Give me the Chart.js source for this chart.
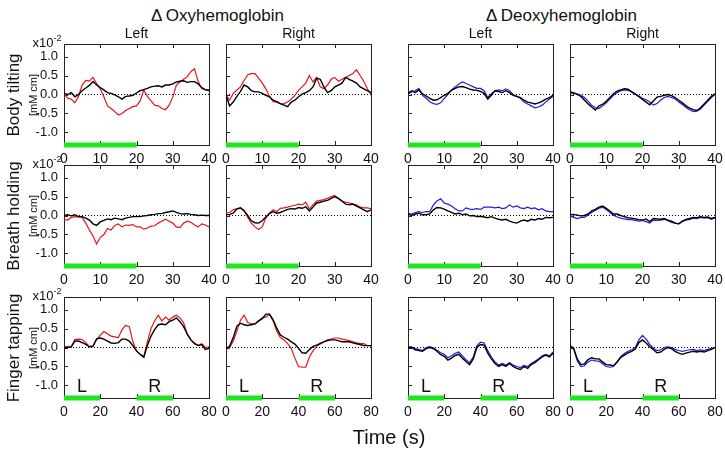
<!DOCTYPE html>
<html><head><meta charset="utf-8">
<script src="https://cdn.jsdelivr.net/npm/chart.js@4/dist/chart.umd.min.js"></script>
<style>
html,body{margin:0;padding:0;background:#fff;}
#root{position:relative;width:725px;height:451px;overflow:hidden;font-family:'Liberation Sans',Arial,sans-serif;color:#111;}
.t{position:absolute;white-space:nowrap;line-height:1;}
canvas{position:absolute;}
</style></head><body><div id="root"></div>
<script>
// ---------- data ----------
const time40 = [0,1,2,3,4,5,6,7,8,9,10,11,12,13,14,15,16,17,18,19,20,21,22,23,24,25,26,27,28,29,30,31,32,33,34,35,36,37,38,39,40];
const time80 = [0,2,4,6,8,10,12,14,16,18,20,22,24,26,28,30,32,34,36,38,40,42,44,46,48,50,52,54,56,58,60,62,64,66,68,70,72,74,76,78,80];
const xTicks40 = [0,10,20,30,40];
const xTicks80 = [0,20,40,60,80];
const yTickValues = [-1,-0.5,0,0.5,1];
const stim40 = [[0,20]];
const stim80 = [[0,20],[40,60]];
const columnTitles = ['Left','Right','Left','Right'];
const groupTitles = ['\u0394\u2009Oxyhemoglobin','\u0394\u2009Deoxyhemoglobin'];
const rowTitles = ['Body tilting','Breath holding','Finger tapping'];

// Body tilting (0-40 s, 1 s steps)
const tiltOxyLeftRed    = [0.03,-0.1,-0.12,-0.22,-0.05,0.25,0.37,0.35,0.45,0.29,0.15,-0.06,-0.3,-0.37,-0.45,-0.54,-0.5,-0.42,-0.37,-0.32,-0.3,-0.17,0.12,-0.05,-0.17,-0.28,-0.3,-0.37,-0.4,-0.28,-0.07,0.25,0.33,0.4,0.47,0.6,0.68,0.35,0.16,0.12,0.13];
const tiltOxyLeftBlack  = [0.03,0,0.05,-0.06,0,0.1,0.17,0.24,0.34,0.25,0.18,0.12,0.05,0.03,-0.01,-0.06,-0.12,-0.05,-0.04,-0.02,0.04,0.1,0.13,0.16,0.2,0.22,0.23,0.2,0.25,0.25,0.28,0.33,0.35,0.36,0.32,0.34,0.34,0.28,0.18,0.13,0.1];
const tiltOxyRightRed   = [-0.02,-0.15,0.03,0.12,0.2,0.37,0.52,0.55,0.55,0.43,0.3,0.15,-0.05,-0.19,-0.2,-0.25,-0.24,-0.2,-0.12,-0.02,0.11,0.2,0.3,0.5,0.33,0.45,0.2,0.15,0.25,0.4,0.45,0.35,0.4,0.45,0.5,0.55,0.65,0.5,0.35,0.15,0];
const tiltOxyRightBlack = [-0.02,-0.3,-0.2,-0.05,0.08,0.25,0.2,0.1,0.07,0.07,0.03,-0.02,-0.06,-0.15,-0.19,-0.24,-0.28,-0.32,-0.2,-0.15,-0.06,0.01,0.05,0.1,0.2,0.43,0.4,0.2,0.05,0.1,0.2,0.25,0.3,0.45,0.4,0.35,0.3,0.2,0.15,0.1,0.05];
const tiltDeoxyLeftBlue   = [0,0.07,0.1,0.16,-0.02,-0.1,-0.19,-0.24,-0.26,-0.22,-0.1,0,0.12,0.2,0.27,0.33,0.29,0.25,0.2,0.16,0.16,0.1,-0.08,0.02,0.1,0.12,0.1,0.15,0.1,0,-0.05,-0.1,-0.2,-0.25,-0.3,-0.35,-0.33,-0.28,-0.2,-0.12,-0.05];
const tiltDeoxyLeftBlack  = [0.03,0.1,0.05,0.12,0.02,-0.04,-0.1,-0.15,-0.14,-0.08,-0.02,0.03,0.11,0.16,0.2,0.21,0.18,0.14,0.12,0.11,0.08,0.03,-0.12,-0.02,0.1,0.08,0.05,0.1,0.05,-0.02,-0.05,-0.08,-0.15,-0.2,-0.22,-0.25,-0.22,-0.18,-0.12,-0.08,-0.02];
const tiltDeoxyRightBlue  = [0.05,0.02,0.02,-0.02,-0.08,-0.18,-0.28,-0.35,-0.37,-0.3,-0.22,-0.12,-0.02,0.05,0.1,0.12,0.11,0.08,0.02,-0.04,-0.1,-0.14,-0.2,-0.28,-0.24,-0.15,-0.08,-0.05,-0.08,-0.12,-0.2,-0.26,-0.34,-0.4,-0.45,-0.44,-0.38,-0.28,-0.18,-0.08,0];
const tiltDeoxyRightBlack = [0.06,0.05,0,-0.05,-0.15,-0.25,-0.33,-0.41,-0.3,-0.26,-0.18,-0.08,0.02,0.09,0.12,0.15,0.14,0.07,0.01,-0.06,-0.13,-0.2,-0.27,-0.17,-0.07,-0.05,-0.02,0,-0.03,-0.08,-0.15,-0.22,-0.3,-0.36,-0.4,-0.42,-0.35,-0.25,-0.15,-0.05,0.02];
// Breath holding (0-40 s, 1 s steps)
const breathOxyLeftRed    = [-0.1,-0.12,-0.05,-0.03,-0.04,-0.05,-0.2,-0.38,-0.54,-0.75,-0.58,-0.5,-0.34,-0.38,-0.26,-0.22,-0.3,-0.25,-0.26,-0.24,-0.3,-0.3,-0.36,-0.33,-0.28,-0.27,-0.2,-0.15,-0.1,-0.15,-0.2,-0.3,-0.32,-0.2,-0.15,-0.18,-0.25,-0.3,-0.22,-0.25,-0.3];
const breathOxyLeftBlack  = [0,0.02,-0.01,0.02,-0.03,-0.03,-0.07,-0.12,-0.22,-0.26,-0.17,-0.13,-0.09,-0.11,-0.07,-0.09,-0.11,-0.07,-0.05,-0.03,-0.03,-0.03,-0.01,0,0.02,0.03,0.05,0.05,0.08,0.1,0.12,0.08,0.05,0.04,0.05,0.03,0.02,0,0.01,0,0];
const breathOxyRightRed   = [0.06,0.08,0.15,0.18,0.2,0.14,-0.05,-0.2,-0.3,-0.37,-0.3,-0.06,0.06,0.15,0.1,0.19,0.2,0.22,0.25,0.27,0.3,0.28,0.35,0.17,0.28,0.38,0.4,0.42,0.45,0.5,0.52,0.45,0.38,0.35,0.33,0.3,0.28,0.22,0.2,0.2,0.18];
const breathOxyRightBlack = [0.02,0.03,0.06,0.17,0.2,0.12,0,-0.14,-0.19,-0.2,-0.14,-0.04,0.05,0.1,0.06,0.08,0.12,0.16,0.18,0.17,0.21,0.19,0.23,0.12,0.22,0.33,0.35,0.38,0.4,0.45,0.5,0.45,0.38,0.3,0.28,0.3,0.25,0.2,0.15,0.1,0.15];
const breathDeoxyLeftBlue   = [0.05,0.04,0.08,0.1,0.08,0.1,0.1,0.28,0.38,0.44,0.33,0.3,0.25,0.18,0.12,0.12,0.2,0.17,0.16,0.18,0.16,0.22,0.22,0.22,0.2,0.22,0.18,0.2,0.28,0.22,0.25,0.2,0.18,0.22,0.18,0.2,0.15,0.18,0.12,0.1,0.1];
const breathDeoxyLeftBlack  = [0.04,0,0.04,0.06,0.02,0.02,0.04,0.15,0.21,0.2,0.17,0.12,0.08,0.04,0.06,0.02,0.04,-0.01,0,-0.03,-0.02,-0.04,-0.06,-0.03,-0.07,-0.1,-0.12,-0.1,-0.15,-0.18,-0.2,-0.15,-0.12,-0.15,-0.1,-0.12,-0.08,-0.1,-0.05,-0.06,-0.05];
const breathDeoxyRightBlue  = [-0.01,-0.05,-0.08,-0.05,-0.05,0.02,0.08,0.14,0.19,0.22,0.16,0.08,0.01,-0.04,-0.07,-0.09,-0.11,-0.11,-0.13,-0.15,-0.13,-0.16,-0.2,-0.12,-0.13,-0.12,-0.1,-0.14,-0.18,-0.2,-0.22,-0.16,-0.12,-0.1,-0.07,-0.08,-0.05,-0.07,-0.06,-0.1,-0.06];
const breathDeoxyRightBlack = [0.02,0.03,0.01,-0.01,0,0.04,0.12,0.16,0.22,0.25,0.19,0.12,0.04,0.04,0,-0.03,-0.06,-0.07,-0.09,-0.11,-0.12,-0.09,-0.16,-0.08,-0.09,-0.1,-0.08,-0.12,-0.15,-0.2,-0.22,-0.15,-0.1,-0.08,-0.05,-0.06,-0.03,-0.05,-0.04,-0.08,-0.05];
// Finger tapping (0-80 s, 2 s steps)
const tapOxyLeftRed    = [0,0.03,0,0.21,0.22,0.21,0.13,0.02,0.02,0.21,0.32,0.42,0.36,0.3,0.28,0.26,0.47,0.58,0.55,0.15,-0.09,-0.18,-0.24,0.15,0.5,0.7,0.85,0.7,0.8,0.72,0.8,0.85,0.78,0.65,0.35,0.2,0.12,0.05,0.1,0,0.02];
const tapOxyLeftBlack  = [0,0,0.02,0.17,0.17,0.13,0.08,0.02,0.04,0.23,0.25,0.22,0.17,0.12,0.11,0.13,0.22,0.22,0.17,0.05,-0.09,-0.18,-0.26,0.05,0.3,0.47,0.6,0.62,0.6,0.68,0.72,0.78,0.68,0.55,0.35,0.2,0.1,0.05,0.08,-0.05,-0.02];
const tapOxyRightRed   = [-0.05,0,0.17,0.43,0.72,0.85,0.66,0.62,0.62,0.7,0.78,0.8,0.87,0.7,0.43,0.26,0.2,0.1,-0.02,-0.28,-0.5,-0.52,-0.52,-0.25,-0.09,0.03,0.09,0.15,0.2,0.22,0.25,0.25,0.22,0.2,0.18,0.15,0.12,0.1,0.1,0.05,0.05];
const tapOxyRightBlack = [-0.03,0.04,0.26,0.56,0.64,0.6,0.58,0.6,0.62,0.7,0.76,0.88,0.88,0.73,0.51,0.33,0.27,0.22,0.15,0.09,-0.02,-0.14,-0.15,-0.05,0.03,0.06,0.11,0.15,0.18,0.2,0.2,0.18,0.15,0.15,0.15,0.12,0.1,0.08,0.05,0.05,0.05];
const tapDeoxyLeftBlue   = [0.02,0.02,-0.03,-0.05,-0.08,0,0.02,-0.01,-0.07,-0.14,-0.18,-0.27,-0.22,-0.15,-0.12,-0.22,-0.32,-0.4,-0.25,0.05,0.14,0.12,-0.08,-0.25,-0.38,-0.46,-0.42,-0.46,-0.4,-0.46,-0.5,-0.53,-0.47,-0.5,-0.42,-0.36,-0.3,-0.22,-0.18,-0.22,-0.12];
const tapDeoxyLeftBlack  = [0,0,-0.06,-0.08,-0.1,-0.03,0,-0.03,-0.1,-0.19,-0.23,-0.33,-0.28,-0.21,-0.18,-0.28,-0.37,-0.45,-0.3,0,0.08,0.06,-0.15,-0.3,-0.42,-0.5,-0.45,-0.5,-0.42,-0.5,-0.55,-0.58,-0.5,-0.55,-0.45,-0.4,-0.32,-0.25,-0.2,-0.25,-0.15];
const tapDeoxyRightBlue  = [0.05,-0.03,-0.35,-0.5,-0.48,-0.38,-0.33,-0.35,-0.36,-0.43,-0.5,-0.52,-0.5,-0.38,-0.24,-0.16,-0.1,-0.06,0,0.2,0.32,0.22,0.08,-0.02,-0.08,-0.06,0,0.02,0,-0.05,-0.08,-0.1,-0.08,-0.06,-0.05,-0.08,-0.06,-0.08,-0.05,-0.02,0];
const tapDeoxyRightBlack = [0.05,-0.02,-0.3,-0.45,-0.43,-0.32,-0.27,-0.3,-0.3,-0.38,-0.45,-0.46,-0.48,-0.38,-0.26,-0.2,-0.14,-0.1,-0.04,0.13,0.2,0.12,0.02,-0.06,-0.14,-0.12,-0.05,0,-0.03,-0.1,-0.15,-0.18,-0.15,-0.12,-0.1,-0.12,-0.1,-0.12,-0.08,-0.05,0];

// ---------- layout ----------
const Y_MIN = -1.33, Y_MAX = 1.33;
const colLeft = [64,226,408,570], rowTop = [44,165,297];
const PW = 145, PH = 101;
const RED = '#e8141b', BLUE = '#1e1ee0', GREEN = '#1fe61f';
const root = document.getElementById('root');

function text(str, cx, cy, size, rot) {
  const d = document.createElement('div');
  d.className = 't';
  d.innerHTML = str;
  d.style.fontSize = size + 'px';
  d.style.left = cx + 'px';
  d.style.top = cy + 'px';
  d.style.transform = 'translate(-50%,-50%)' + (rot ? ' rotate(-90deg)' : '');
  root.appendChild(d);
  return d;
}

Chart.defaults.font.family = "'Liberation Sans', Arial, sans-serif";
Chart.defaults.color = '#111';
Chart.defaults.animation = false;

const framePlugin = {
  id: 'frame',
  beforeDatasetsDraw(chart) {
    const {ctx, chartArea: a, scales: {x, y}} = chart;
    ctx.save();
    ctx.strokeStyle = '#222';
    ctx.lineWidth = 1;
    ctx.strokeRect(a.left + 0.5, a.top + 0.5, a.right - a.left, a.bottom - a.top);
    const TL = 4;
    ctx.beginPath();
    x.ticks.forEach(t => {
      if (t.value <= x.min || t.value >= x.max) return;
      const px = Math.round(x.getPixelForValue(t.value)) + 0.5;
      ctx.moveTo(px, a.top); ctx.lineTo(px, a.top + TL);
      ctx.moveTo(px, a.bottom); ctx.lineTo(px, a.bottom - TL);
    });
    y.ticks.forEach(t => {
      const py = Math.round(y.getPixelForValue(t.value)) + 0.5;
      ctx.moveTo(a.left, py); ctx.lineTo(a.left + TL, py);
    });
    ctx.stroke();
    ctx.restore();
  },
  afterDraw(chart) {
    const lr = chart.options.plugins.frame && chart.options.plugins.frame.lr;
    if (!lr) return;
    const {ctx, chartArea: a, scales: {x}} = chart;
    ctx.save();
    ctx.font = "18px 'Liberation Sans', Arial, sans-serif";
    ctx.fillStyle = '#111';
    ctx.textAlign = 'center';
    ctx.textBaseline = 'middle';
    lr.forEach(([lab, v]) => ctx.fillText(lab, x.getPixelForValue(v), a.bottom - 11));
    ctx.restore();
  }
};

function makePanel(row, col, times, colored, black, color, xTicks, stims, lr) {
  const padL = col === 0 ? 45 : 6, padT = 5, padR = 14, padB = 24;
  const xmax = xTicks[xTicks.length - 1];
  const cv = document.createElement('canvas');
  const W = PW + padL + padR, H = PH + padT + padB;
  cv.width = W; cv.height = H;
  cv.style.width = W + 'px'; cv.style.height = H + 'px';
  cv.style.left = (colLeft[col] - padL) + 'px';
  cv.style.top = (rowTop[row] - padT) + 'px';
  root.appendChild(cv);
  const pts = (xs, ys) => xs.map((v, i) => ({x: v, y: ys[i]}));
  const datasets = [];
  stims.forEach(s => datasets.push({data: [{x: s[0], y: Y_MIN}, {x: s[1], y: Y_MIN}], borderColor: GREEN, borderWidth: 5, clip: false, borderCapStyle: 'butt'}));
  datasets.push({data: pts(times, black), borderColor: '#000', borderWidth: 1.4});
  datasets.push({data: pts(times, colored), borderColor: color, borderWidth: 1.2});
  datasets.push({data: [{x: 0, y: 0}, {x: xmax, y: 0}], borderColor: '#000', borderWidth: 1, borderDash: [1, 2]});
  new Chart(cv, {
    type: 'line',
    data: {datasets},
    options: {
      responsive: false, devicePixelRatio: 1,
      layout: {autoPadding: false, padding: {left: 0, top: padT, right: padR, bottom: 0}},
      elements: {point: {radius: 0}, line: {tension: 0, fill: false}},
      plugins: {legend: {display: false}, tooltip: {enabled: false}, frame: {lr}},
      scales: {
        x: {type: 'linear', min: 0, max: xmax,
            grid: {display: false, drawTicks: false}, border: {display: false},
            ticks: {padding: 6, font: {size: 14}, maxRotation: 0, autoSkip: false},
            afterBuildTicks: s => { s.ticks = xTicks.map(v => ({value: v})); },
            afterFit: s => { s.height = padB; s.paddingLeft = 0; s.paddingRight = 0; s.paddingTop = 0; s.paddingBottom = 0; }},
        y: {type: 'linear', min: Y_MIN, max: Y_MAX,
            grid: {display: false, drawTicks: false}, border: {display: false},
            ticks: {display: col === 0, padding: 6, font: {size: 13}, callback: v => v.toFixed(1)},
            afterBuildTicks: s => { s.ticks = yTickValues.map(v => ({value: v})); },
            afterFit: s => { s.width = padL; s.paddingLeft = 0; s.paddingRight = 0; s.paddingTop = 0; s.paddingBottom = 0; }}
      }
    },
    plugins: [framePlugin]
  });
}

const series = [
  [tiltOxyLeftRed, tiltOxyLeftBlack, tiltOxyRightRed, tiltOxyRightBlack, tiltDeoxyLeftBlue, tiltDeoxyLeftBlack, tiltDeoxyRightBlue, tiltDeoxyRightBlack],
  [breathOxyLeftRed, breathOxyLeftBlack, breathOxyRightRed, breathOxyRightBlack, breathDeoxyLeftBlue, breathDeoxyLeftBlack, breathDeoxyRightBlue, breathDeoxyRightBlack],
  [tapOxyLeftRed, tapOxyLeftBlack, tapOxyRightRed, tapOxyRightBlack, tapDeoxyLeftBlue, tapDeoxyLeftBlack, tapDeoxyRightBlue, tapDeoxyRightBlack]
];
for (let r = 0; r < 3; r++) {
  for (let c = 0; c < 4; c++) {
    const times = r === 2 ? time80 : time40;
    const xt = r === 2 ? xTicks80 : xTicks40;
    const st = r === 2 ? stim80 : stim40;
    const lr = r === 2 ? [['L', 10], ['R', 50]] : null;
    makePanel(r, c, times, series[r][2 * c], series[r][2 * c + 1], c < 2 ? RED : BLUE, xt, st, lr);
  }
}

// ---------- text ----------
text(groupTitles[0], (colLeft[0] + colLeft[1] + PW) / 2, 15, 17);
text(groupTitles[1], (colLeft[2] + colLeft[3] + PW) / 2, 15, 17);
columnTitles.forEach((s, i) => text(s, colLeft[i] + PW / 2, 33, 14));
rowTitles.forEach((s, r) => {
  const cy = rowTop[r] + PH / 2;
  text(s, 13, cy, 17, true);
  text('[mM cm]', 33, cy, 11, true);
  text('x10<sup style="font-size:9px;vertical-align:6px">-2</sup>', 47, rowTop[r] - 3, 13);
});
text('Time (s)', 389, 437, 20);
</script></body></html>
